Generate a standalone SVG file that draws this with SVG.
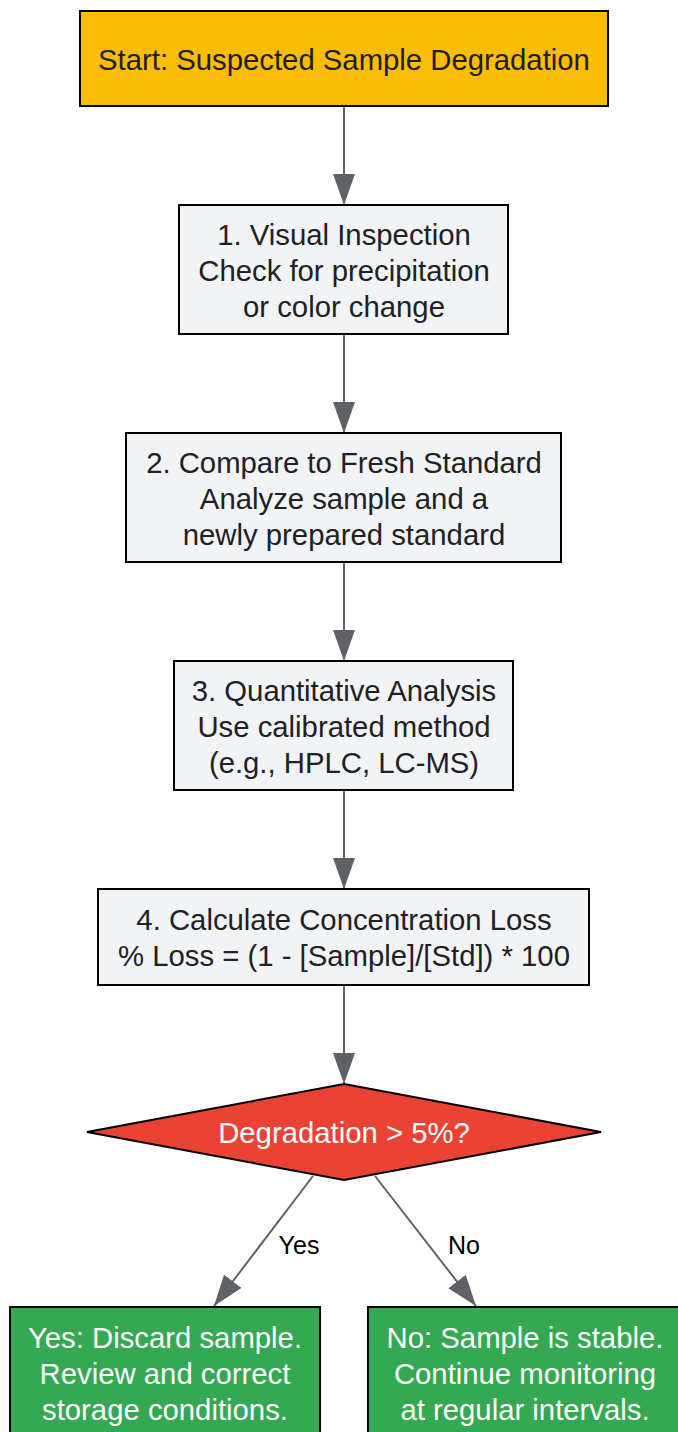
<svg xmlns="http://www.w3.org/2000/svg" width="678" height="1432" viewBox="0 0 678 1432">
<style>
text{font-family:"Liberation Sans",Arial,sans-serif;font-size:29.3px;text-anchor:middle;dominant-baseline:central;fill:#202124}
.box{fill:#F1F3F4;stroke:#000;stroke-width:2}
.start{fill:#FBBC05;stroke:#000;stroke-width:2}
.dec{fill:#EA4335;stroke:#000;stroke-width:2}
.ok{fill:#34A853;stroke:#000;stroke-width:2}
.w{fill:#fff}
.edge{stroke:#5F6368;stroke-width:2;fill:none}
.lbl{font-size:25px;fill:#000}
</style>
<defs>
<marker id="arr" markerUnits="userSpaceOnUse" markerWidth="31" markerHeight="22" refX="31" refY="11" orient="auto">
<path d="M0,0 L31,11 L0,22 z" fill="#5F6368"/>
</marker>
</defs>
<g id="connectors">
<path class="edge" d="M344,106 L344,205" marker-end="url(#arr)"/>
<path class="edge" d="M344,334 L344,433" marker-end="url(#arr)"/>
<path class="edge" d="M344,562 L344,661" marker-end="url(#arr)"/>
<path class="edge" d="M344,790 L344,889" marker-end="url(#arr)"/>
<path class="edge" d="M344,985 L344,1084" marker-end="url(#arr)"/>
<path class="edge" d="M313,1176 L214,1306" marker-end="url(#arr)"/>
<path class="edge" d="M375,1176 L476,1306" marker-end="url(#arr)"/>
<text class="lbl" x="299" y="1245">Yes</text>
<text class="lbl" x="464" y="1245">No</text>
</g>
<g id="start">
<rect class="start" x="80" y="11" width="528" height="95"/>
<text x="344" y="59">Start: Suspected Sample Degradation</text>
</g>
<g id="step1">
<rect class="box" x="179" y="205" width="329" height="129"/>
<text x="344" y="234">1. Visual Inspection</text>
<text x="344" y="270">Check for precipitation</text>
<text x="344" y="306">or color change</text>
</g>
<g id="step2">
<rect class="box" x="126" y="433" width="435" height="129"/>
<text x="344" y="462">2. Compare to Fresh Standard</text>
<text x="344" y="498">Analyze sample and a</text>
<text x="344" y="534">newly prepared standard</text>
</g>
<g id="step3">
<rect class="box" x="174" y="661" width="339" height="129"/>
<text x="344" y="690">3. Quantitative Analysis</text>
<text x="344" y="726">Use calibrated method</text>
<text x="344" y="762">(e.g., HPLC, LC-MS)</text>
</g>
<g id="step4">
<rect class="box" x="98" y="889" width="491" height="96"/>
<text x="344" y="919">4. Calculate Concentration Loss</text>
<text x="344" y="955">% Loss = (1 - [Sample]/[Std]) * 100</text>
</g>
<g id="decision">
<polygon class="dec" points="344,1084 601,1132 344,1180 87,1132"/>
<text class="w" x="344" y="1132">Degradation &gt; 5%?</text>
</g>
<g id="yes">
<rect class="ok" x="10" y="1307" width="310" height="140"/>
<text class="w" x="165" y="1337">Yes: Discard sample.</text>
<text class="w" x="165" y="1373">Review and correct</text>
<text class="w" x="165" y="1409">storage conditions.</text>
</g>
<g id="no">
<rect class="ok" x="368" y="1307" width="320" height="140"/>
<text class="w" x="525" y="1337">No: Sample is stable.</text>
<text class="w" x="525" y="1373">Continue monitoring</text>
<text class="w" x="525" y="1409">at regular intervals.</text>
</g>
</svg>
